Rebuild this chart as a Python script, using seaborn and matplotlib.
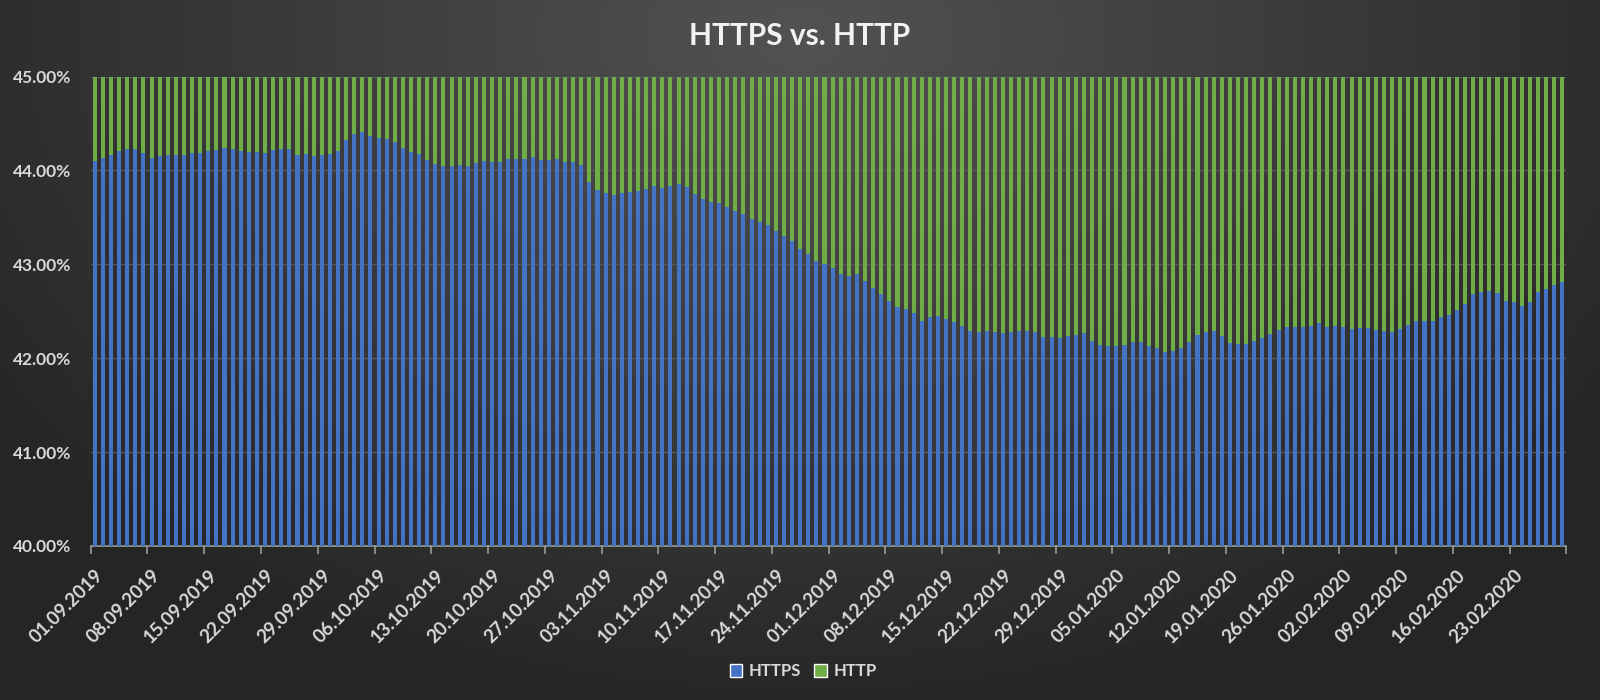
import numpy as np
import pandas as pd
import seaborn as sns
from matplotlib import pyplot as plt
from matplotlib.patches import Patch
from matplotlib.ticker import PercentFormatter, FixedLocator

# daily share of HTTPS (percent), 01.09.2019 .. 29.02.2020
dates = pd.date_range("2019-09-01", "2020-02-29", freq="D")
https_share = [
    44.10, 44.13, 44.165, 44.21, 44.23, 44.23, 44.19, 44.13, 44.15, 44.165,
    44.165, 44.165, 44.19, 44.19, 44.21, 44.22, 44.24, 44.23, 44.21, 44.20,
    44.20, 44.19, 44.22, 44.23, 44.23, 44.165, 44.17, 44.15, 44.165, 44.18,
    44.21, 44.32, 44.39, 44.41, 44.37, 44.35, 44.33, 44.30, 44.24, 44.20,
    44.17, 44.11, 44.07, 44.05, 44.05, 44.06, 44.05, 44.08, 44.10, 44.09,
    44.09, 44.125, 44.125, 44.125, 44.14, 44.11, 44.11, 44.125, 44.09, 44.085,
    44.06, 43.88, 43.79, 43.76, 43.74, 43.76, 43.77, 43.78, 43.80, 43.83,
    43.815, 43.83, 43.86, 43.82, 43.75, 43.70, 43.66, 43.65, 43.61, 43.57,
    43.54, 43.48, 43.455, 43.415, 43.355, 43.30, 43.245, 43.165, 43.11, 43.035,
    43.00, 42.96, 42.90, 42.88, 42.90, 42.82, 42.745, 42.68, 42.605, 42.55,
    42.52, 42.48, 42.395, 42.435, 42.445, 42.415, 42.385, 42.345, 42.29, 42.275,
    42.285, 42.275, 42.265, 42.275, 42.295, 42.285, 42.275, 42.23, 42.23, 42.215,
    42.235, 42.245, 42.265, 42.185, 42.14, 42.125, 42.125, 42.145, 42.175, 42.17,
    42.125, 42.105, 42.065, 42.08, 42.105, 42.175, 42.245, 42.275, 42.29, 42.235,
    42.16, 42.155, 42.155, 42.18, 42.215, 42.255, 42.305, 42.33, 42.33, 42.33,
    42.34, 42.37, 42.335, 42.34, 42.33, 42.31, 42.32, 42.32, 42.30, 42.29,
    42.275, 42.31, 42.35, 42.395, 42.395, 42.395, 42.44, 42.465, 42.51, 42.58,
    42.68, 42.71, 42.72, 42.695, 42.61, 42.60, 42.555, 42.60, 42.70, 42.74,
    42.78, 42.81,
]
y_ticks = [40, 41, 42, 43, 44, 45]

BLUE = "#4472C4"
GREEN = "#70AD47"
TEXT = "#D9D9D9"

df = pd.DataFrame({"date": dates.strftime("%d.%m.%Y"), "HTTPS": https_share})
df["HTTP"] = 100 - df["HTTPS"]
df["total"] = df["HTTPS"] + df["HTTP"]

sns.set_theme(style="dark")
plt.rcParams["font.family"] = ["Lato", "DejaVu Sans"]

fig = plt.figure(figsize=(16, 7), dpi=100)

# dark radial background
bg = fig.add_axes([0, 0, 1, 1], zorder=0)
gx, gy = np.meshgrid(np.linspace(0, 1, 400), np.linspace(0, 1, 175))
dist = np.sqrt(((gx - 0.5) / 0.62) ** 2 + ((gy - 0.05) / 1.0) ** 2)
f = np.clip(1 - dist, 0, 1)
c0, c1 = np.array([0x25, 0x25, 0x25]) / 255, np.array([0x52, 0x52, 0x52]) / 255
img = c0 + (c1 - c0) * f[..., None]
bg.imshow(img, aspect="auto", extent=[0, 1, 0, 1], origin="upper")
bg.axis("off")

ax = fig.add_axes([0.0567, 0.22, 0.9223, 0.6707], zorder=1)
ax.set_facecolor("none")

# stacked: HTTP on top of HTTPS, total drawn first
sns.barplot(data=df, x="date", y="total", color=GREEN, saturation=1,
            width=0.5, linewidth=0, ax=ax, zorder=2)
sns.barplot(data=df, x="date", y="HTTPS", color=BLUE, saturation=1,
            width=0.5, linewidth=0, ax=ax, zorder=3)

ax.set_ylim(40, 45)
ax.set_xlim(-0.5, len(df) - 0.5)
ax.set_yticks(y_ticks)
ax.yaxis.set_major_formatter(PercentFormatter(decimals=2))
ax.grid(axis="y", color="#575757", linewidth=1, zorder=1)
ax.grid(axis="x", visible=False)
ax.set_axisbelow(True)

week_idx = list(range(0, len(df), 7))
ax.set_xticks(week_idx)
ax.set_xticklabels(df["date"].iloc[week_idx], rotation=45, ha="right",
                   rotation_mode="anchor")
ax.xaxis.set_minor_locator(FixedLocator([i - 0.5 for i in week_idx] + [len(df) - 0.5]))
ax.tick_params(axis="x", which="major", length=0, pad=15)
ax.tick_params(axis="x", which="minor", length=6, width=1.2, color="#9a9a9a", bottom=True)
ax.tick_params(axis="y", length=0, pad=14)
for lab in ax.get_xticklabels():
    lab.set_color(TEXT)
    lab.set_fontsize(13.5)
    lab.set_fontweight("bold")
for lab in ax.get_yticklabels():
    lab.set_color(TEXT)
    lab.set_fontsize(12.5)
    lab.set_fontweight("bold")

for side in ["left", "right", "top"]:
    ax.spines[side].set_visible(False)
ax.spines["bottom"].set_color("#9a9a9a")
ax.spines["bottom"].set_linewidth(1.2)
ax.set_xlabel("")
ax.set_ylabel("")

fig.text(0.5, 0.949, "HTTPS vs. HTTP", ha="center", va="center",
         fontsize=21.5, fontweight="bold", color="#F2F2F2")

handles = [Patch(facecolor=BLUE, label="HTTPS"), Patch(facecolor=GREEN, label="HTTP")]
leg = fig.legend(handles=handles, loc="center", bbox_to_anchor=(0.502, 0.041),
                 ncol=2, frameon=False, handlelength=0.75, handleheight=0.75,
                 handletextpad=0.4, columnspacing=0.8,
                 prop={"size": 12, "weight": "bold"})
for t in leg.get_texts():
    t.set_color(TEXT)

fig.savefig("out.png", dpi=100)
